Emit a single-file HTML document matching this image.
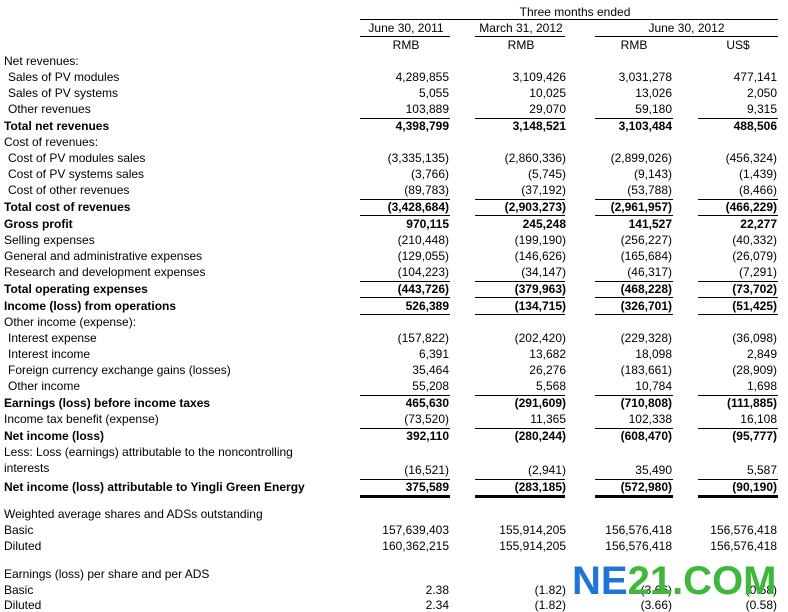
<!DOCTYPE html>
<html><head><meta charset="utf-8"><style>
body{margin:0;width:788px;height:604px;overflow:hidden;background:#fff;font-family:"Liberation Sans",Arial,sans-serif;font-size:12px;color:#000;position:relative}
.r{position:absolute;left:0;width:788px;height:14px;line-height:14px;white-space:nowrap}
.r span{position:absolute}
.l{left:4px}.i{left:8px}
.a{right:339px}.b{right:222px}.c{right:116px}.d{right:11px}
.bd{font-weight:bold}
.ln{position:absolute;height:1px;background:#000}
.h{position:absolute;text-align:center;line-height:14px}
</style></head><body>
<div class="h" style="top:5px;left:475px;width:200px">Three months ended</div>
<div class="ln" style="top:19px;left:360px;width:418px"></div>
<div class="h" style="top:21px;left:360px;width:92px">June 30, 2011</div>
<div class="h" style="top:21px;left:475px;width:92px">March 31, 2012</div>
<div class="h" style="top:21px;left:595px;width:183px">June 30, 2012</div>
<div class="ln" style="top:36px;left:360px;width:90px"></div>
<div class="ln" style="top:36px;left:475px;width:90px"></div>
<div class="ln" style="top:36px;left:595px;width:183px"></div>
<div class="h" style="top:38px;left:360px;width:92px">RMB</div>
<div class="h" style="top:38px;left:475px;width:92px">RMB</div>
<div class="h" style="top:38px;left:595px;width:78px">RMB</div>
<div class="h" style="top:38px;left:698px;width:80px">US$</div>

<div class="r" style="top:54px"><span class="l">Net revenues:</span></div>
<div class="r" style="top:70px"><span class="i">Sales of PV modules</span><span class="a">4,289,855</span><span class="b">3,109,426</span><span class="c">3,031,278</span><span class="d">477,141</span></div>
<div class="r" style="top:86px"><span class="i">Sales of PV systems</span><span class="a">5,055</span><span class="b">10,025</span><span class="c">13,026</span><span class="d">2,050</span></div>
<div class="r" style="top:102px"><span class="i">Other revenues</span><span class="a">103,889</span><span class="b">29,070</span><span class="c">59,180</span><span class="d">9,315</span></div>
<div class="r bd" style="top:119px"><span class="l">Total net revenues</span><span class="a">4,398,799</span><span class="b">3,148,521</span><span class="c">3,103,484</span><span class="d">488,506</span></div>
<div class="r" style="top:135px"><span class="l">Cost of revenues:</span></div>
<div class="r" style="top:151px"><span class="i">Cost of PV modules sales</span><span class="a">(3,335,135)</span><span class="b">(2,860,336)</span><span class="c">(2,899,026)</span><span class="d">(456,324)</span></div>
<div class="r" style="top:167px"><span class="i">Cost of PV systems sales</span><span class="a">(3,766)</span><span class="b">(5,745)</span><span class="c">(9,143)</span><span class="d">(1,439)</span></div>
<div class="r" style="top:183px"><span class="i">Cost of other revenues</span><span class="a">(89,783)</span><span class="b">(37,192)</span><span class="c">(53,788)</span><span class="d">(8,466)</span></div>
<div class="r bd" style="top:200px"><span class="l">Total cost of revenues</span><span class="a">(3,428,684)</span><span class="b">(2,903,273)</span><span class="c">(2,961,957)</span><span class="d">(466,229)</span></div>
<div class="r bd" style="top:217px"><span class="l">Gross profit</span><span class="a">970,115</span><span class="b">245,248</span><span class="c">141,527</span><span class="d">22,277</span></div>
<div class="r" style="top:233px"><span class="l">Selling expenses</span><span class="a">(210,448)</span><span class="b">(199,190)</span><span class="c">(256,227)</span><span class="d">(40,332)</span></div>
<div class="r" style="top:249px"><span class="l">General and administrative expenses</span><span class="a">(129,055)</span><span class="b">(146,626)</span><span class="c">(165,684)</span><span class="d">(26,079)</span></div>
<div class="r" style="top:265px"><span class="l">Research and development expenses</span><span class="a">(104,223)</span><span class="b">(34,147)</span><span class="c">(46,317)</span><span class="d">(7,291)</span></div>
<div class="r bd" style="top:282px"><span class="l">Total operating expenses</span><span class="a">(443,726)</span><span class="b">(379,963)</span><span class="c">(468,228)</span><span class="d">(73,702)</span></div>
<div class="r bd" style="top:299px"><span class="l">Income (loss) from operations</span><span class="a">526,389</span><span class="b">(134,715)</span><span class="c">(326,701)</span><span class="d">(51,425)</span></div>
<div class="r" style="top:315px"><span class="l">Other income (expense):</span></div>
<div class="r" style="top:331px"><span class="i">Interest expense</span><span class="a">(157,822)</span><span class="b">(202,420)</span><span class="c">(229,328)</span><span class="d">(36,098)</span></div>
<div class="r" style="top:347px"><span class="i">Interest income</span><span class="a">6,391</span><span class="b">13,682</span><span class="c">18,098</span><span class="d">2,849</span></div>
<div class="r" style="top:363px"><span class="i">Foreign currency exchange gains (losses)</span><span class="a">35,464</span><span class="b">26,276</span><span class="c">(183,661)</span><span class="d">(28,909)</span></div>
<div class="r" style="top:379px"><span class="i">Other income</span><span class="a">55,208</span><span class="b">5,568</span><span class="c">10,784</span><span class="d">1,698</span></div>
<div class="r bd" style="top:396px"><span class="l">Earnings (loss) before income taxes</span><span class="a">465,630</span><span class="b">(291,609)</span><span class="c">(710,808)</span><span class="d">(111,885)</span></div>
<div class="r" style="top:412px"><span class="l">Income tax benefit (expense)</span><span class="a">(73,520)</span><span class="b">11,365</span><span class="c">102,338</span><span class="d">16,108</span></div>
<div class="r bd" style="top:429px"><span class="l">Net income (loss)</span><span class="a">392,110</span><span class="b">(280,244)</span><span class="c">(608,470)</span><span class="d">(95,777)</span></div>
<div class="r" style="top:445px"><span class="l">Less: Loss (earnings) attributable to the noncontrolling</span></div>
<div class="r" style="top:461px"><span class="l">interests</span></div>
<div class="r" style="top:463px"><span class="a">(16,521)</span><span class="b">(2,941)</span><span class="c">35,490</span><span class="d">5,587</span></div>
<div class="r bd" style="top:480px"><span class="l">Net income (loss) attributable to Yingli Green Energy</span><span class="a">375,589</span><span class="b">(283,185)</span><span class="c">(572,980)</span><span class="d">(90,190)</span></div>
<div class="r" style="top:507px"><span class="l">Weighted average shares and ADSs outstanding</span></div>
<div class="r" style="top:523px"><span class="l">Basic</span><span class="a">157,639,403</span><span class="b">155,914,205</span><span class="c">156,576,418</span><span class="d">156,576,418</span></div>
<div class="r" style="top:539px"><span class="l">Diluted</span><span class="a">160,362,215</span><span class="b">155,914,205</span><span class="c">156,576,418</span><span class="d">156,576,418</span></div>
<div class="r" style="top:567px"><span class="l">Earnings (loss) per share and per ADS</span></div>
<div class="r" style="top:583px"><span class="l">Basic</span><span class="a">2.38</span><span class="b">(1.82)</span><span class="c">(3.66)</span><span class="d">(0.58)</span></div>
<div class="r" style="top:598px"><span class="l">Diluted</span><span class="a">2.34</span><span class="b">(1.82)</span><span class="c">(3.66)</span><span class="d">(0.58)</span></div>

<div id="lines"></div>
<script>
var ys=[[118,1],[199,1],[215,1],[281,1],[297,1],[314,1],[395,1],[428,1],[479,1],[495,3]];
var xs=[[360,90],[475,90],[595,78],[698,80]];
var h='';ys.forEach(function(y){xs.forEach(function(x){h+='<div class="ln" style="top:'+y[0]+'px;left:'+x[0]+'px;width:'+x[1]+'px;height:'+y[1]+'px"></div>';});});
document.getElementById('lines').innerHTML=h;
</script>
<div style="position:absolute;left:572px;top:561px;font-family:'Liberation Sans',sans-serif;font-weight:bold;font-size:40px;line-height:40px;letter-spacing:0px"><span style="color:#1f74d6">NE</span><span style="color:#3db83a">21.COM</span></div>
</body></html>
